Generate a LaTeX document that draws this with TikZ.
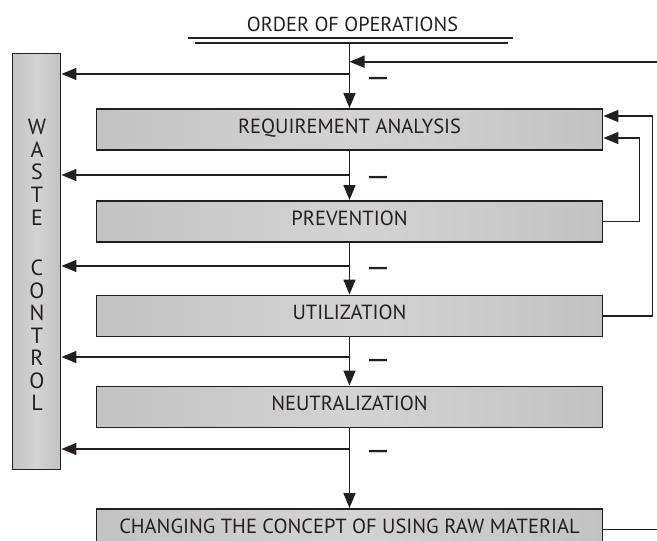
\documentclass[tikz,border=0pt]{standalone}
\usepackage{fontspec}
\setmainfont{PT Sans}
\usetikzlibrary{arrows.meta,positioning}

\definecolor{ink}{HTML}{231F20}
\definecolor{boxgray}{HTML}{C3C3C3}
\definecolor{boxlight}{HTML}{D3D3D3}

\begin{document}
\begin{tikzpicture}[x=1pt, y=-1pt, >={Triangle[length=15pt,width=12pt]}, line width=1.6pt, draw=ink,
    stepbox/.style={draw=ink, line width=1.9pt, left color=boxgray, right color=boxgray, middle color=boxlight,
        minimum width=506pt, minimum height=41pt, inner sep=0pt,
        font=\fontsize{20.5}{20.5}\selectfont, text=ink, text height=0.7em, text depth=0pt},
    minus/.style={font=\fontsize{31}{31}\selectfont, text=ink, inner sep=0pt}]
    % 画布大小
    \clip (0,0) rectangle (657,541);

    % 标题和双横线
    \node[font=\fontsize{20.3}{20.3}\selectfont, text=ink] (title) at (352.5,24) {ORDER OF OPERATIONS};
    \draw[line width=1.7pt] (188,37.7) -- (513,37.7);
    \draw[line width=1.7pt] (195,42.7) -- (508,42.7);
    \coordinate (top) at (349.5,42.7);

    % 五个步骤框
    \node[stepbox] (req)  at (349.5,129.5) {REQUIREMENT ANALYSIS};
    \node[stepbox] (prev) at (349.5,221.5) {PREVENTION};
    \node[stepbox] (util) at (349.5,316)   {UTILIZATION};
    \node[stepbox] (neut) at (349.5,407)   {NEUTRALIZATION};
    \node[stepbox] (chg)  at (349.5,529.5) {CHANGING THE CONCEPT OF USING RAW MATERIAL};

    % 左侧废物控制框
    \node[draw=ink, line width=1.9pt, left color=boxgray, right color=boxgray, middle color=boxlight,
        minimum width=48pt, minimum height=416pt, inner sep=0pt] (waste) at (36.5,261.5) {};
    \foreach \l [count=\i] in {W,A,S,T,E}
        \node[font=\fontsize{22}{22}\selectfont, text=ink] (w\i) at (37, {126.7+(\i-1)*22.7}) {\l};
    \foreach \l [count=\i] in {C,O,N,T,R,O,L}
        \node[font=\fontsize{22}{22}\selectfont, text=ink] (c\i) at (37, {268+(\i-1)*22.5}) {\l};

    % 右侧输入箭头
    \coordinate (inR) at (657,61.7);
    \draw[->] (inR) -- (inR -| top);

    % 主干向下箭头
    \draw[->] (top) -- (req.north);
    \draw[->] (req.south) -- (prev.north);
    \draw[->] (prev.south) -- (util.north);
    \draw[->] (util.south) -- (neut.north);
    \draw[->] (neut.south) -- (chg.north);

    % 向左分支到废物控制
    \coordinate (s0) at (349.5,74);
    \coordinate (s1) at (349.5,175);
    \coordinate (s2) at (349.5,266);
    \coordinate (s3) at (349.5,357);
    \coordinate (s4) at (349.5,449);
    \foreach \s in {s0,s1,s2,s3,s4}
        \draw[->] (\s) -- (\s -| waste.east);

    % 减号
    \node[minus] (m0) at (378,82) {—};
    \node[minus] (m1) at (378,181) {—};
    \node[minus] (m2) at (378,272) {—};
    \node[minus] (m3) at (378,364) {—};
    \node[minus] (m4) at (378,455) {—};

    % 反馈回路
    \draw[->] (prev.east) -- ++(36,0) |- ([yshift=-8.5pt]req.east);
    \draw[->] (util.east) -- ++(49,0) |- ([yshift=13.5pt]req.east);
    \draw (chg.east) -- (chg.east -| inR);
\end{tikzpicture}
\end{document}
